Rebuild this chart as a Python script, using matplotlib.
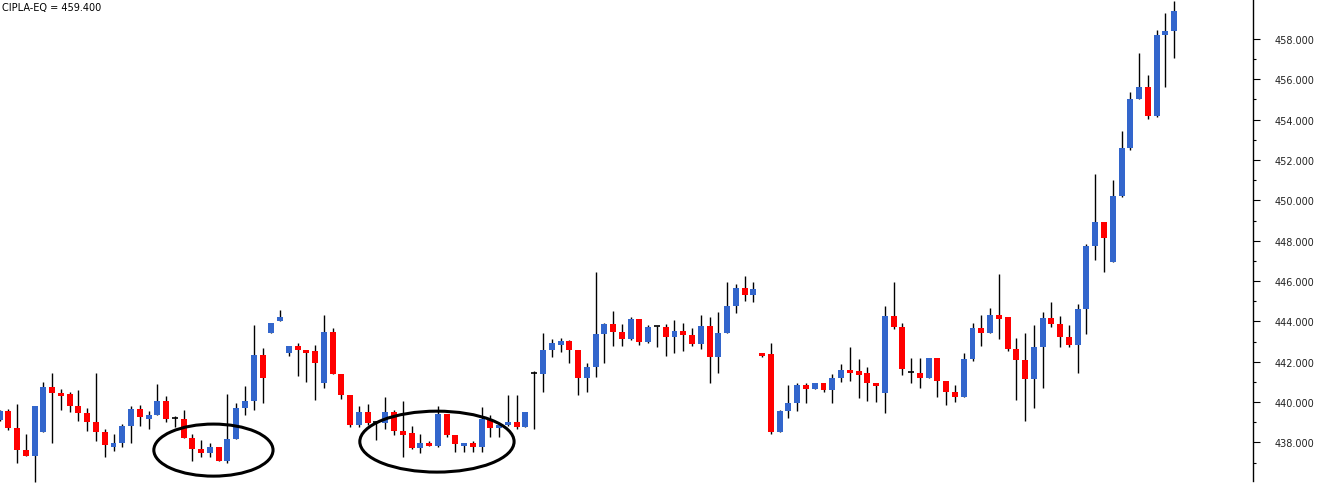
import numpy as np
import matplotlib
matplotlib.use('Agg')
import matplotlib.pyplot as plt
from matplotlib.patches import Ellipse
from matplotlib.ticker import FixedLocator, FormatStrFormatter

title = "CIPLA-EQ = 459.400"

# OHLC, one value per candle
opens = [439.11, 439.57, 438.71, 437.64, 437.33, 438.53, 440.75, 440.47, 440.41, 439.80,
         439.47, 439.03, 438.53, 437.79, 437.98, 438.83, 439.65, 439.16, 439.37, 440.05,
         439.19, 439.16, 438.22, 437.67, 437.49, 437.77, 437.09, 438.17, 439.70, 440.05,
         442.33, 443.44, 444.03, 442.45, 442.78, 442.58, 442.55, 440.96, 443.47, 441.39,
         440.37, 438.88, 439.51, 439.00, 438.98, 439.51, 438.56, 438.47, 437.72, 437.97,
         437.82, 439.43, 438.37, 437.82, 437.97, 437.77, 439.16, 438.73, 438.88, 439.03,
         438.78, 441.43, 441.39, 442.58, 442.83, 443.03, 442.58, 441.19, 441.72, 443.37,
         443.87, 443.47, 443.13, 444.12, 442.98, 443.76, 443.72, 443.23, 443.52, 443.32,
         442.88, 443.77, 442.23, 443.42, 444.76, 445.65, 445.31, 442.43, 442.38, 438.52,
         439.56, 439.95, 440.85, 440.65, 440.95, 440.60, 441.19, 441.59, 441.54, 441.44,
         440.95, 440.45, 444.27, 443.72, 441.48, 441.44, 441.19, 442.18, 441.04, 440.50,
         440.25, 442.13, 443.67, 443.42, 444.32, 444.22, 442.63, 442.08, 441.14, 442.73,
         444.17, 443.87, 443.23, 442.83, 444.61, 447.74, 448.93, 446.94, 450.22, 452.60,
         455.03, 455.62, 454.18, 458.20, 458.40]
highs = [439.62, 439.65, 439.90, 438.42, 439.80, 440.99, 441.44, 440.65, 440.48, 440.60,
         439.70, 441.44, 438.66, 438.42, 438.91, 439.82, 439.85, 439.57, 440.90, 440.30,
         439.29, 439.60, 438.42, 438.12, 437.97, 437.77, 440.40, 439.95, 440.78, 443.82,
         442.68, 443.92, 444.56, 442.78, 442.94, 442.58, 442.83, 444.32, 443.67, 441.39,
         440.37, 439.79, 439.91, 439.05, 440.23, 439.59, 440.04, 438.81, 438.42, 438.08,
         439.80, 439.43, 438.37, 437.97, 438.07, 439.75, 439.36, 438.88, 440.37, 440.37,
         439.52, 441.53, 443.42, 443.13, 443.18, 443.08, 442.58, 441.93, 446.45, 443.92,
         444.50, 443.87, 444.22, 444.12, 443.82, 443.76, 443.87, 444.07, 443.92, 443.67,
         444.32, 444.22, 444.47, 445.95, 445.85, 446.25, 445.95, 442.43, 442.93, 439.60,
         440.85, 440.95, 440.95, 440.95, 440.95, 441.39, 441.89, 442.73, 442.13, 441.74,
         440.95, 444.76, 445.95, 443.92, 442.18, 442.18, 442.18, 442.18, 441.04, 440.85,
         442.43, 443.92, 444.32, 444.66, 446.35, 444.22, 443.18, 443.42, 443.82, 444.47,
         444.96, 444.27, 443.82, 444.86, 447.83, 451.31, 448.93, 451.01, 453.44, 455.37,
         457.30, 456.22, 458.45, 459.29, 459.88]
lows = [439.06, 438.63, 436.99, 437.33, 436.05, 438.53, 437.98, 439.62, 439.52, 439.07,
        438.58, 438.08, 437.29, 437.59, 437.79, 437.98, 438.83, 438.68, 439.37, 439.03,
        438.78, 438.23, 437.09, 437.29, 437.29, 437.09, 436.99, 438.17, 439.37, 439.62,
        439.97, 443.44, 444.03, 442.30, 441.29, 441.01, 440.12, 440.71, 441.40, 440.17,
        438.75, 438.75, 438.88, 438.12, 438.66, 438.38, 437.29, 437.67, 437.47, 437.82,
        437.77, 438.28, 437.54, 437.54, 437.54, 437.54, 438.28, 438.28, 438.83, 438.68,
        438.78, 438.65, 440.51, 442.23, 442.48, 441.93, 440.35, 440.50, 441.24, 441.93,
        442.78, 442.78, 443.08, 442.83, 442.93, 442.73, 442.28, 442.43, 442.53, 442.78,
        442.63, 440.94, 441.44, 443.42, 444.42, 445.01, 444.96, 442.23, 438.42, 438.52,
        439.21, 439.56, 439.95, 440.65, 440.50, 439.95, 440.99, 441.04, 440.20, 440.05,
        440.00, 439.46, 443.62, 441.34, 440.95, 440.70, 441.19, 440.25, 439.85, 440.00,
        440.25, 442.03, 442.78, 443.42, 443.13, 442.53, 440.10, 439.06, 439.70, 440.70,
        443.72, 442.73, 442.73, 441.44, 443.37, 447.04, 446.45, 446.94, 450.17, 452.50,
        455.03, 454.03, 454.13, 455.62, 457.06]
closes = [439.57, 438.71, 437.64, 437.33, 439.80, 440.75, 440.47, 440.30, 439.82, 439.47,
          439.03, 438.53, 437.89, 437.97, 438.81, 439.65, 439.27, 439.37, 440.05, 439.16,
          439.19, 438.23, 437.67, 437.49, 437.77, 437.09, 438.17, 439.70, 440.05, 442.33,
          441.19, 443.92, 444.22, 442.78, 442.58, 442.45, 441.95, 443.47, 441.40, 440.37,
          438.88, 439.51, 438.98, 439.00, 439.51, 438.58, 438.38, 437.72, 437.97, 437.82,
          439.43, 438.37, 437.92, 437.97, 437.77, 439.16, 438.73, 438.88, 439.03, 438.78,
          439.52, 441.43, 442.58, 442.93, 443.03, 442.58, 441.19, 441.72, 443.37, 443.87,
          443.47, 443.13, 444.12, 442.98, 443.72, 443.76, 443.23, 443.52, 443.32, 442.88,
          443.77, 442.23, 443.42, 444.76, 445.65, 445.31, 445.60, 442.28, 438.52, 439.56,
          439.95, 440.85, 440.65, 440.95, 440.60, 441.19, 441.59, 441.44, 441.34, 440.95,
          440.80, 444.27, 443.72, 441.64, 441.48, 441.19, 442.18, 441.04, 440.50, 440.25,
          442.13, 443.67, 443.42, 444.32, 444.12, 442.63, 442.08, 441.14, 442.73, 444.17,
          443.87, 443.23, 442.83, 444.61, 447.74, 448.93, 448.13, 450.22, 452.60, 455.03,
          455.62, 454.18, 458.20, 458.40, 459.40]

# price axis ticks
major_ticks = [438, 440, 442, 444, 446, 448, 450, 452, 454, 456, 458]
minor_ticks = [437, 439, 441, 443, 445, 447, 449, 451, 453, 455, 457]

# ellipses drawn by hand on the chart: (candle index, price, width in candles, height in price)
circles = [(24.4, 437.62, 13.6, 2.58), (49.9, 438.04, 17.6, 3.02)]

up_col = '#3366cc'
down_col = '#ff0000'

o = np.array(opens)
h = np.array(highs)
l = np.array(lows)
c = np.array(closes)
x = np.arange(len(o))

fig = plt.figure(figsize=(13.29, 4.85), dpi=100)
ax = fig.add_axes([0, 0, 1253/1329, 1])

# wicks first, bodies on top
ax.vlines(x, l, h, color='black', lw=1.0, zorder=1)

up = c > o
dn = c < o
eq = c == o
ax.bar(x[up], c[up]-o[up], bottom=o[up], width=0.68, color=up_col, zorder=2)
ax.bar(x[dn], o[dn]-c[dn], bottom=c[dn], width=0.68, color=down_col, zorder=2)
ax.hlines(c[eq], x[eq]-0.34, x[eq]+0.34, color='black', lw=1.2, zorder=2)

for cx, cy, w, hh in circles:
    ax.add_patch(Ellipse((cx, cy), w, hh, fill=False, ec='black', lw=2.2, zorder=3))

ax.set_xlim(0.05, 143.0)
ax.set_ylim(435.94, 459.98)

for s in ['top', 'left', 'bottom']:
    ax.spines[s].set_visible(False)
ax.spines['right'].set_linewidth(1.0)
ax.spines['right'].set_bounds(436.08, 459.98)
ax.set_xticks([])
ax.yaxis.tick_right()
ax.yaxis.set_major_locator(FixedLocator(major_ticks))
ax.yaxis.set_minor_locator(FixedLocator(minor_ticks))
ax.yaxis.set_major_formatter(FormatStrFormatter('%.3f'))
ax.tick_params(axis='y', which='major', direction='out', length=4.8, width=0.8,
               labelsize=7, labelcolor='#222222', pad=11)
ax.tick_params(axis='y', which='minor', direction='out', length=2.4, width=0.8)

fig.text(2/1329, 1-3/485, title, ha='left', va='top', fontsize=7, color='black')

fig.savefig('out.png', dpi=100)
